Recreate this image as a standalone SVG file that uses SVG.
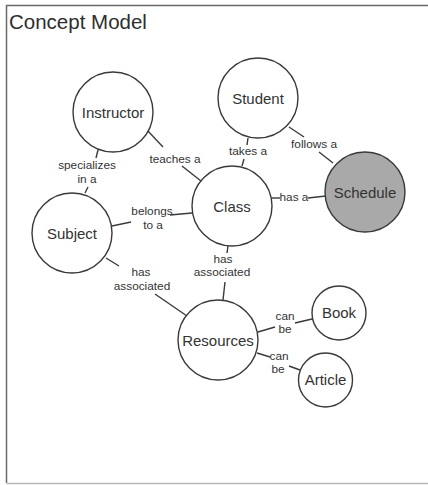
<svg xmlns="http://www.w3.org/2000/svg" width="428" height="485" viewBox="0 0 428 485">
  <style>
    .frame-edge { stroke: #6a6a6a; stroke-width: 1.5; fill: none; }
    .frame-base { stroke: #b8b8b8; stroke-width: 1.5; fill: none; }
    .title { font-family: "Liberation Sans", Arial, sans-serif; font-size: 20.5px; fill: #2e2e2e; }
    .node circle { fill: #ffffff; stroke: #3a3a3a; stroke-width: 1.4; }
    .node.shaded circle { fill: #a9a9a9; }
    .node text { font-family: "Liberation Sans", Arial, sans-serif; font-size: 15px; fill: #333333; text-anchor: middle; }
    .edges line { stroke: #3a3a3a; stroke-width: 1.4; }
    .edges text { font-family: "Liberation Sans", Arial, sans-serif; font-size: 11.8px; fill: #333333; text-anchor: middle; }
  </style>

  <!-- page frame: open on the right, faint along the bottom -->
  <path class="frame-edge" d="M428 5.5 H6.5 V483"/>
  <line class="frame-base" x1="6.5" y1="483.5" x2="428" y2="483.5"/>
  <text class="title" x="9" y="29">Concept Model</text>

  <!-- links between concepts, each split around its phrase -->
  <g id="connectors" class="edges">
    <!-- Instructor teaches a Class -->
    <line x1="147" y1="130" x2="163" y2="147"/>
    <text x="175" y="163">teaches a</text>
    <line x1="182" y1="166" x2="201" y2="181"/>

    <!-- Instructor specializes in a Subject -->
    <line x1="98" y1="150" x2="96" y2="158"/>
    <text x="87" y="169">specializes</text>
    <text x="87" y="183">in a</text>
    <line x1="88" y1="187" x2="85" y2="193"/>

    <!-- Class belongs to a Subject -->
    <line x1="112" y1="226" x2="131" y2="222"/>
    <text x="152" y="215">belongs</text>
    <text x="153" y="229">to a</text>
    <line x1="170" y1="215" x2="192" y2="213"/>

    <!-- Student takes a Class -->
    <line x1="248" y1="138" x2="247" y2="145"/>
    <text x="248" y="155">takes a</text>
    <line x1="244" y1="159" x2="242" y2="166"/>

    <!-- Student follows a Schedule -->
    <line x1="289" y1="127" x2="304" y2="137"/>
    <text x="314" y="148">follows a</text>
    <line x1="319" y1="152" x2="333" y2="163"/>

    <!-- Class has a Schedule -->
    <line x1="272" y1="198" x2="280" y2="198"/>
    <text x="294" y="201">has a</text>
    <line x1="308" y1="198" x2="326" y2="196"/>

    <!-- Class has associated Resources -->
    <line x1="228" y1="246" x2="227" y2="253"/>
    <text x="223" y="263">has</text>
    <text x="222" y="276">associated</text>
    <line x1="225" y1="282" x2="223" y2="300"/>

    <!-- Subject has associated Resources -->
    <line x1="106" y1="258" x2="119" y2="266"/>
    <text x="141" y="276">has</text>
    <text x="142" y="290">associated</text>
    <line x1="155" y1="294" x2="187" y2="316"/>

    <!-- Resources can be Book -->
    <line x1="258" y1="332" x2="275" y2="327"/>
    <text x="285" y="320">can</text>
    <text x="285" y="333">be</text>
    <line x1="295" y1="323" x2="312" y2="319"/>

    <!-- Resources can be Article -->
    <line x1="257" y1="353" x2="270" y2="357"/>
    <text x="279" y="360">can</text>
    <text x="278" y="373">be</text>
    <line x1="289" y1="366" x2="300" y2="370"/>
  </g>

  <g id="instructor" class="node">
    <circle cx="113" cy="112" r="40"/>
    <text x="113" y="118">Instructor</text>
  </g>
  <g id="student" class="node">
    <circle cx="258" cy="98" r="40"/>
    <text x="258" y="104">Student</text>
  </g>
  <g id="class" class="node">
    <circle cx="232" cy="206" r="40"/>
    <text x="232" y="212">Class</text>
  </g>
  <g id="schedule" class="node shaded">
    <circle cx="365" cy="192" r="40"/>
    <text x="365" y="198">Schedule</text>
  </g>
  <g id="subject" class="node">
    <circle cx="72" cy="233" r="40"/>
    <text x="72" y="239">Subject</text>
  </g>
  <g id="resources" class="node">
    <circle cx="218" cy="340" r="40"/>
    <text x="218" y="346">Resources</text>
  </g>
  <g id="book" class="node">
    <circle cx="339" cy="313" r="27"/>
    <text x="339" y="318">Book</text>
  </g>
  <g id="article" class="node">
    <circle cx="325.5" cy="380" r="27"/>
    <text x="325.5" y="385">Article</text>
  </g>
</svg>
